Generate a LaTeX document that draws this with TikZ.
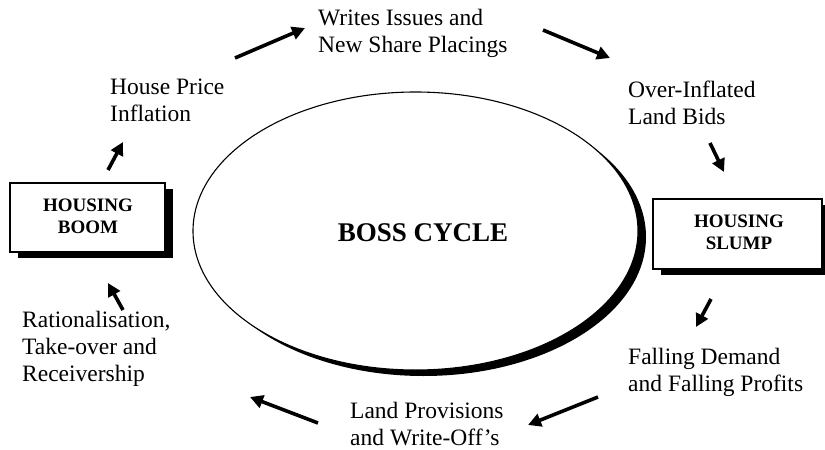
\documentclass[tikz,border=0pt]{standalone}
\usepackage{fontspec}
\setmainfont{Liberation Serif}
\usetikzlibrary{arrows.meta}
\begin{document}
\begin{tikzpicture}[x=1pt,y=-1pt,
  label/.style={inner sep=0pt,anchor=north west,align=left,
    font=\fontsize{23.5}{27}\selectfont},
  stagetext/.style={font=\fontsize{19}{22}\selectfont\bfseries,align=center},
  stagebox/.style={draw=black,line width=1.3pt,fill=white},
  shade/.style={fill=black},
  flow/.style={line width=3.6pt,-{Triangle[length=13pt,width=13pt]}}]
\useasboundingbox (0,0) rectangle (825,450);

% central cycle ellipse with its dark rim
\fill[shade] (423.5,237) ellipse [x radius=222.5pt,y radius=139pt];
\draw[line width=1.1pt,fill=white] (415.5,231) ellipse [x radius=222.5pt,y radius=139pt];
\node[font=\fontsize{27}{30}\selectfont\bfseries] (boss) at (423,233) {BOSS CYCLE};

% boom and slump boxes with drop shadows
\fill[shade] (18,189) rectangle (173,258);
\draw[stagebox] (10,183) rectangle (165,252);
\node[stagetext] (boom) at (88,216) {HOUSING\\BOOM};
\fill[shade] (661,205) rectangle (830,275);
\draw[stagebox] (653,199) rectangle (822,269);
\node[stagetext] (slump) at (739,232) {HOUSING\\SLUMP};

% stage labels
\node[label] (inflation) at (110,79) {House Price\\Inflation};
\node[label] (issues) at (318,9) {Writes Issues and\\New Share Placings};
\node[label] (bids) at (628,81) {Over-Inflated\\Land Bids};
\node[label] (falling) at (628,348) {Falling Demand\\and Falling Profits};
\node[label] (provisions) at (350,402) {Land Provisions\\and Write-Off's};
\node[label] (rational) at (22,311) {Rationalisation,\\Take-over and\\Receivership};

% arrow ends
\coordinate (a1) at (235,58);  \coordinate (b1) at (305,28);
\coordinate (a2) at (543,30);  \coordinate (b2) at (610,58);
\coordinate (a3) at (710,143); \coordinate (b3) at (724,172);
\coordinate (a4) at (711,299); \coordinate (b4) at (696,327);
\coordinate (a5) at (598,397); \coordinate (b5) at (528,425);
\coordinate (a6) at (318,423); \coordinate (b6) at (250,397);
\coordinate (a7) at (123,310); \coordinate (b7) at (108,283);
\coordinate (a8) at (108,170); \coordinate (b8) at (123,142);

\foreach \i in {1,...,8} \draw[flow] (a\i) -- (b\i);
\end{tikzpicture}
\end{document}
